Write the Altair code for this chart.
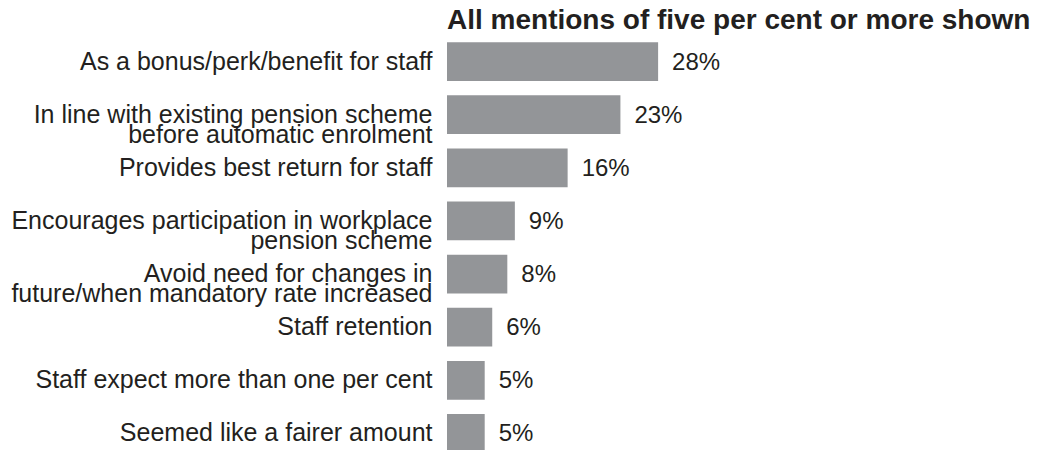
import altair as alt
import pandas as pd

categories = [
    "As a bonus/perk/benefit for staff",
    "In line with existing pension scheme|before automatic enrolment",
    "Provides best return for staff",
    "Encourages participation in workplace|pension scheme",
    "Avoid need for changes in|future/when mandatory rate increased",
    "Staff retention",
    "Staff expect more than one per cent",
    "Seemed like a fairer amount",
]
values = [28, 23, 16, 9, 8, 6, 5, 5]
value_labels = ["28%", "23%", "16%", "9%", "8%", "6%", "5%", "5%"]

df = pd.DataFrame({"cat": categories, "val": values, "lab": value_labels})

FONT = "Arial"
TEXT = "#231f20"

y = alt.Y(
    "cat:N",
    sort=categories,
    scale=alt.Scale(paddingInner=0.27, paddingOuter=0.135),
    axis=alt.Axis(
        title=None,
        ticks=False,
        domain=False,
        labelExpr="split(datum.label, '|')",
        labelFont=FONT,
        labelFontSize=25,
        labelLineHeight=20,
        labelColor=TEXT,
        labelPadding=15,
        labelLimit=1000,
    ),
)
x = alt.X("val:Q", scale=alt.Scale(domain=[0, 75.6]), axis=None)

bars = alt.Chart(df).mark_bar(color="#939598").encode(x=x, y=y)
text = alt.Chart(df).mark_text(
    align="left", baseline="middle", dx=14, dy=1, font=FONT, fontSize=24, color=TEXT
).encode(x=x, y=y, text="lab:N")

chart = (
    alt.layer(bars, text)
    .properties(
        width=570,
        height=425,
        autosize=alt.AutoSizeParams(type="none"),
        padding={"left": 439, "top": 27, "right": 19, "bottom": 0},
        title=alt.TitleParams(
            "All mentions of five per cent or more shown",
            anchor="start",
            frame="group",
            font=FONT,
            fontSize=28,
            fontWeight="bold",
            color=TEXT,
            offset=0,
        ),
    )
    .configure_view(stroke=None)
)

chart.save("out.html", embed_options={"renderer": "svg", "actions": False})
